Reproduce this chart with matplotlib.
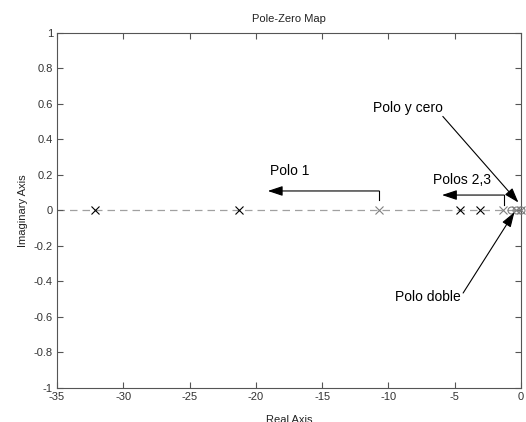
import matplotlib
matplotlib.use("Agg")
import matplotlib.pyplot as plt

plt.rcParams["font.family"] = ["Liberation Sans", "DejaVu Sans"]

# poles / zeros
poles_black = [-32.1, -21.3, -4.6, -3.1]
poles_gray = [-10.7, -1.36, -0.38, 0.0]
zeros_gray = [-0.75, -0.38, 0.0]

x_ticks = [-35, -30, -25, -20, -15, -10, -5, 0]
y_ticks = [-1, -0.8, -0.6, -0.4, -0.2, 0, 0.2, 0.4, 0.6, 0.8, 1]
y_tick_labels = ["-1", "-0.8", "-0.6", "-0.4", "-0.2", "0", "0.2", "0.4", "0.6", "0.8", "1"]

axis_gray = "#555555"
mark_gray = "#808080"

fig = plt.figure(figsize=(5.26, 4.22), dpi=100)
ax = fig.add_axes([0.1084, 0.0806, 0.8822, 0.8412])

ax.plot([-35, 0], [0, 0], linestyle=(0, (6, 4)), color="#a0a0a0", linewidth=0.9, zorder=1)
ax.plot(poles_black, [0] * len(poles_black), "x", color="black", markersize=6,
        markeredgewidth=0.8, zorder=3)
ax.plot(poles_gray, [0] * len(poles_gray), "x", color=mark_gray, markersize=6,
        markeredgewidth=0.8, zorder=3, clip_on=False)
ax.plot(zeros_gray, [0] * len(zeros_gray), "o", color=mark_gray, markerfacecolor="none",
        markersize=5, markeredgewidth=0.8, zorder=3, clip_on=False)

ax.set_xlim(-35, 0)
ax.set_ylim(-1, 1)
ax.set_xticks(x_ticks)
ax.set_xticklabels([str(t) for t in x_ticks])
ax.set_yticks(y_ticks)
ax.set_yticklabels(y_tick_labels)
ax.tick_params(direction="in", top=True, right=True, length=4, width=0.8,
               colors=axis_gray, labelsize=8, labelcolor="#333333", pad=3)
for s in ax.spines.values():
    s.set_color(axis_gray)
    s.set_linewidth(0.8)

ax.set_title("Pole-Zero Map", fontsize=8, color="#222222", pad=8)
ax.set_xlabel("Real Axis", fontsize=8, color="#222222", labelpad=9)
ax.set_ylabel("Imaginary Axis", fontsize=8, color="#222222", labelpad=4)

arrow = dict(arrowstyle="-|>,head_length=0.9,head_width=0.3", color="black",
             linewidth=0.8, shrinkA=0, shrinkB=0)

# Polo 1
ax.plot([-10.7, -10.7], [0.06, 0.11], color="black", linewidth=0.8)
ax.annotate("", xy=(-19.1, 0.11), xytext=(-10.7, 0.11), arrowprops=arrow)
ax.text(-18.9, 0.22, "Polo 1", fontsize=10, va="center", ha="left")

# Polos 2,3
ax.plot([-1.28, -1.28], [0.03, 0.087], color="black", linewidth=0.8)
ax.annotate("", xy=(-5.96, 0.087), xytext=(-1.28, 0.087), arrowprops=arrow)
ax.text(-6.64, 0.17, "Polos 2,3", fontsize=10, va="center", ha="left")

# Polo y cero
ax.annotate("", xy=(-0.2, 0.045), xytext=(-5.9, 0.53), arrowprops=arrow)
ax.text(-5.9, 0.577, "Polo y cero", fontsize=10, va="center", ha="right")

# Polo doble
ax.annotate("", xy=(-0.5, -0.01), xytext=(-4.37, -0.465), arrowprops=arrow)
ax.text(-9.5, -0.49, "Polo doble", fontsize=10, va="center", ha="left")

fig.savefig("out.png", dpi=100)
